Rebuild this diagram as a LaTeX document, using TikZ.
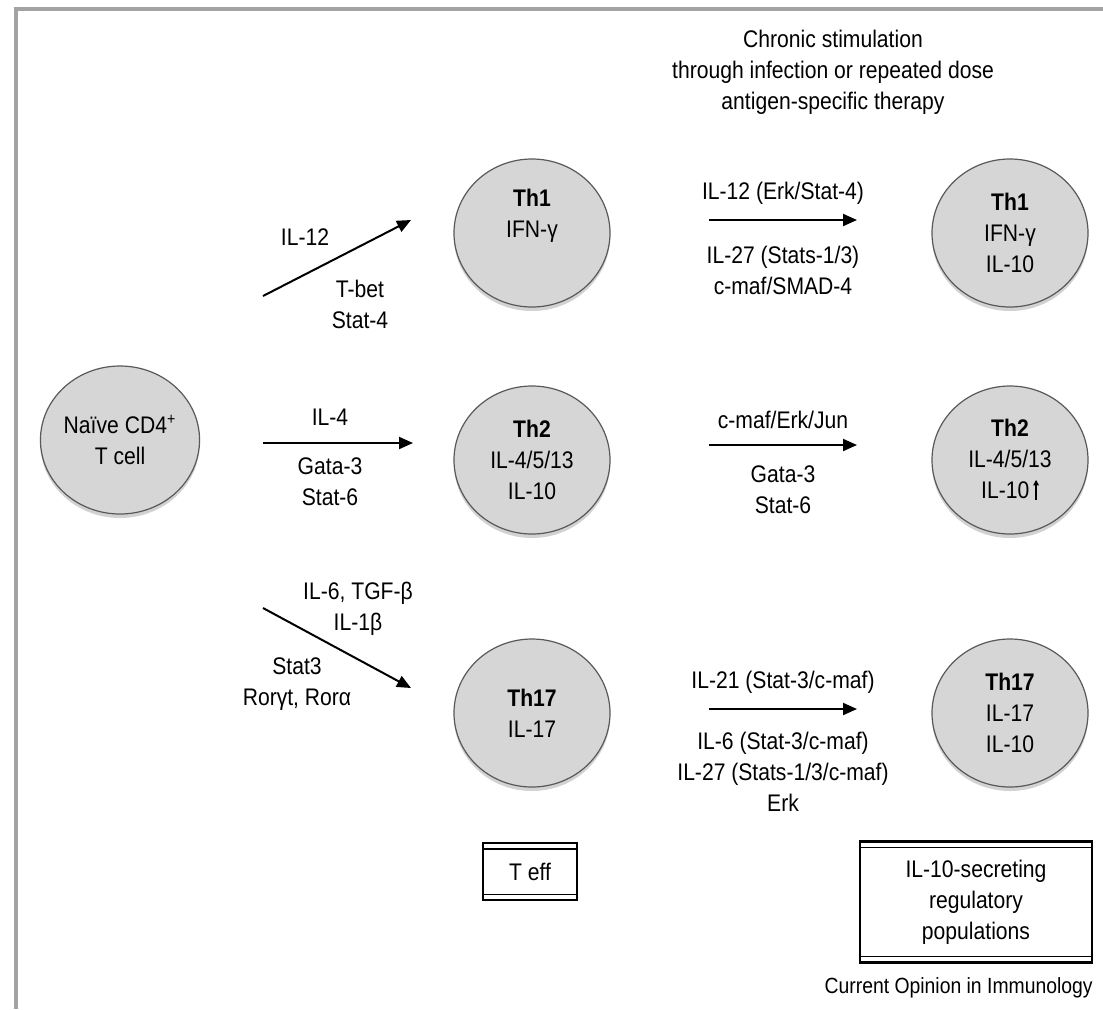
\documentclass[tikz,border=0pt]{standalone}
\usepackage{fontspec}
\setmainfont{Liberation Sans}[FakeStretch=0.88]
\usetikzlibrary{arrows.meta,positioning,shapes.geometric,shadows}
\definecolor{framegray}{gray}{0.64}
\definecolor{cellin}{gray}{0.84}
\definecolor{cellmid}{gray}{0.72}
\definecolor{cellrim}{gray}{0.45}
\definecolor{celledge}{gray}{0.35}
\pgfdeclareradialshading{cellshade}{\pgfpoint{0bp}{0bp}}{color(0bp)=(cellin); color(35bp)=(cellin); color(45bp)=(cellmid); color(50bp)=(cellrim)}
\newcommand{\uparr}{\,\tikz[baseline=0pt,x=1pt,y=1pt]\draw[line width=0.7pt,-{Triangle[length=2.8pt,width=2.8pt]}] (0,-0.5) -- (0,9.5);}
\tikzset{
    cell/.style = {ellipse,shading=cellshade,draw=celledge,line width=0.6pt,text=black,
                   minimum width=78pt,minimum height=74pt,inner sep=0pt,align=center,
                   drop shadow={shadow xshift=0pt,shadow yshift=-2pt,opacity=0.25,fill=black!70}},
    lbl/.style = {align=center,inner sep=0pt,text=black},
    flow/.style = {-{Triangle[length=7pt,width=6pt]},line width=1pt},
    legend/.style = {rectangle,draw=black,line width=1.1pt,align=center,inner sep=0pt},
    rule/.style = {line width=0.6pt}
}

\begin{document}
\begin{tikzpicture}[x=0.5pt,y=-0.5pt,font=\fontsize{12}{15.5}\selectfont]
        \useasboundingbox (0,0) rectangle (1103,1009);
        \fill[white] (0,0) rectangle (1103,1009);
        \draw[framegray,line width=1.7pt] (16,1009) -- (16,9) -- (1103,9);

        \node[lbl]  (title) at (833,72) {Chronic stimulation\\through infection or repeated dose\\antigen-specific therapy};

        %% Cells
        \node[cell]  (naive) at (120,440)                                     {Naïve CD4\textsuperscript{+}\\T cell};
        \node[cell]  (th2)   [right of=naive,node distance=206pt,yshift=-10pt] {\textbf{Th2}\\IL-4/5/13\\IL-10};
        \node[cell]  (th1)   [above of=th2,node distance=113.5pt]              {\textbf{Th1}\\IFN-γ\\[4pt]};
        \node[cell]  (th17)  [below of=th2,node distance=126.5pt]              {\textbf{Th17}\\IL-17};
        \node[cell]  (th1r)  [right of=th1,node distance=239pt]                {\textbf{Th1}\\IFN-γ\\IL-10};
        \node[cell]  (th2r)  [right of=th2,node distance=239pt]                {\textbf{Th2}\\IL-4/5/13\\IL-10\uparr};
        \node[cell]  (th17r) [right of=th17,node distance=239pt]               {\textbf{Th17}\\IL-17\\IL-10};

        %% Differentiation
        \coordinate (a1s) at (263,296);
        \coordinate (a1e) at (411,220);
        \coordinate (a2s) at (263,443);
        \coordinate (a2e) at (413,443);
        \coordinate (a3s) at (263,608);
        \coordinate (a3e) at (411,688);
        \path   (a1s) edge [flow] node {} (a1e)
                (a2s) edge [flow] node {} (a2e)
                (a3s) edge [flow] node {} (a3e);
        \node[lbl]  (t001) at (305,237) {IL-12};
        \node[lbl]  (t002) at (360,304) {T-bet\\Stat-4};
        \node[lbl]  (t003) at (330,417) {IL-4};
        \node[lbl]  (t004) at (330,482) {Gata-3\\Stat-6};
        \node[lbl]  (t005) at (358,609) {IL-6, TGF-β\\IL-1β};
        \node[lbl]  (t006) at (297,684) {Stat3\\Rorγt, Rorα};

        %% Chronic stimulation
        \coordinate (b1s) at (709,220);
        \coordinate (b1e) at (857,220);
        \coordinate (b2s) at (709,445);
        \coordinate (b2e) at (857,445);
        \coordinate (b3s) at (709,709);
        \coordinate (b3e) at (857,709);
        \path   (b1s) edge [flow] node {} (b1e)
                (b2s) edge [flow] node {} (b2e)
                (b3s) edge [flow] node {} (b3e);
        \node[lbl]  (t011) at (783,193) {IL-12 (Erk/Stat-4)};
        \node[lbl]  (t012) at (783,270) {IL-27 (Stats-1/3)\\c-maf/SMAD-4};
        \node[lbl]  (t013) at (783,420) {c-maf/Erk/Jun};
        \node[lbl]  (t014) at (783,490) {Gata-3\\Stat-6};
        \node[lbl]  (t015) at (783,682) {IL-21 (Stat-3/c-maf)};
        \node[lbl]  (t016) at (783,772) {IL-6 (Stat-3/c-maf)\\IL-27 (Stats-1/3/c-maf)\\Erk};

        %% Legend boxes
        \node[legend,minimum width=47pt,minimum height=28.5pt]  (teff) at (530,871.5) {T eff};
        \node[legend,minimum width=116pt,minimum height=60.5pt] (treg) at (976,902)   {IL-10-secreting\\regulatory\\populations};
        \draw[rule] ([yshift=-3.5pt]teff.north west) -- ([yshift=-3.5pt]teff.north east);
        \draw[rule] ([yshift=3.5pt]teff.south west) -- ([yshift=3.5pt]teff.south east);
        \draw[rule] ([yshift=-3.5pt]treg.north west) -- ([yshift=-3.5pt]treg.north east);
        \draw[rule] ([yshift=3.5pt]treg.south west) -- ([yshift=3.5pt]treg.south east);

        \node[lbl,anchor=east,font=\fontsize{11}{12}\selectfont]  (src) at (1093,988) {Current Opinion in Immunology};
\end{tikzpicture}
\end{document}
